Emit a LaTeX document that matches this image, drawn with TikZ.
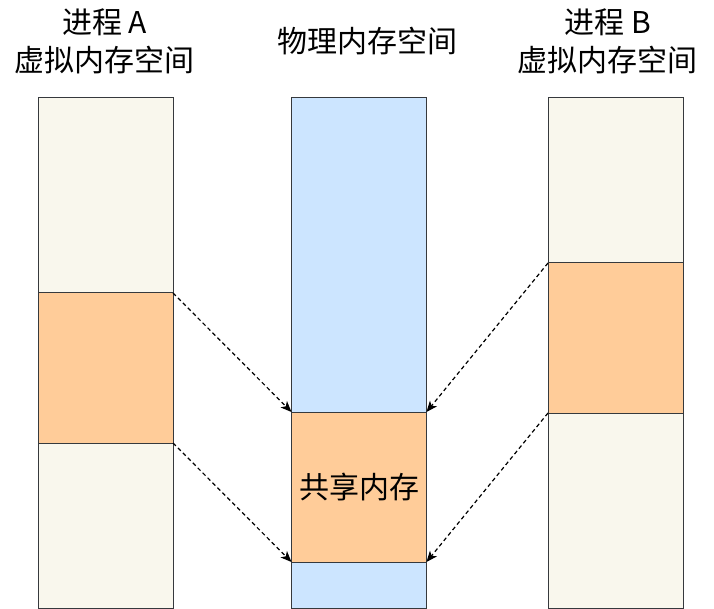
\documentclass[tikz,border=0pt]{standalone}
\usepackage{fontspec}
\setmainfont{Noto Sans CJK SC}
\usepackage{xcolor}
\usepackage{tikz}
\usetikzlibrary{positioning,arrows.meta}
\definecolor{virt}{HTML}{F9F7ED}
\definecolor{shm}{HTML}{FFCC99}
\definecolor{phys}{HTML}{CCE5FF}
\definecolor{edge}{HTML}{36393D}

\begin{document}
\begin{tikzpicture}[x=1pt,y=1pt,font=\fontsize{30}{38}\selectfont,>={Stealth[length=11pt,width=9pt,inset=3pt]},node distance=0pt]
\tikzstyle{seg}=[draw=edge,line width=1pt,minimum width=135pt,inner sep=0pt,outer sep=0pt]
\tikzstyle{map}=[->,dash pattern=on 4pt off 3pt,line width=1.2pt]
\useasboundingbox (0,0) rectangle (714,-609);
% process A
\node[seg,fill=virt,minimum height=195pt] (a1) at (105.5,-195.5) {};
\node[seg,fill=shm,minimum height=150pt,below=of a1] (a2) {};
\node[seg,fill=virt,minimum height=165pt,below=of a2] (a3) {};
% physical memory
\node[seg,fill=phys,minimum height=314pt] (m1) at (359,-255) {};
\node[seg,fill=shm,minimum height=150pt,below=of m1] (m2) {共享内存};
\node[seg,fill=phys,minimum height=46pt,below=of m2] (m3) {};
% process B
\node[seg,fill=virt,minimum height=165pt] (b1) at (615.5,-180.5) {};
\node[seg,fill=shm,minimum height=150pt,below=of b1] (b2) {};
\node[seg,fill=virt,minimum height=195pt,below=of b2] (b3) {};
% titles
\node[align=center] (ta) at ([xshift=-1pt,yshift=57pt]a1.north) {进程 A\\虚拟内存空间};
\node[align=center] (tb) at ([xshift=-8pt,yshift=57pt]b1.north) {进程 B\\虚拟内存空间};
\node (tm) at ([xshift=8pt]ta -| m1) {物理内存空间};
% mappings
\draw[map] (a2.north east) -- (m2.north west);
\draw[map] (a2.south east) -- (m2.south west);
\draw[map] (b2.north west) -- (m2.north east);
\draw[map] (b2.south west) -- (m2.south east);
\end{tikzpicture}
\end{document}
